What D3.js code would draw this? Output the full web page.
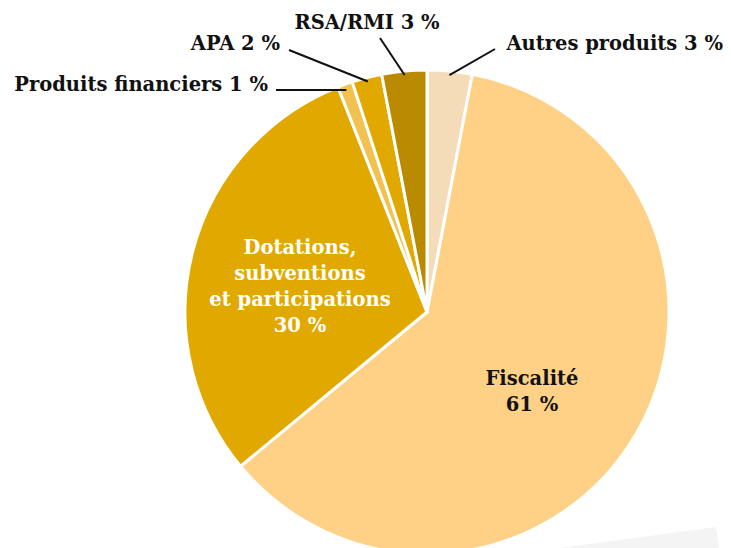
<!DOCTYPE html>
<html>
<head>
<meta charset="utf-8">
<script src="https://cdn.jsdelivr.net/npm/d3@7"></script>
<style>
  html, body { margin: 0; padding: 0; background: #fff; }
  svg { display: block; }
</style>
</head>
<body>
<svg id="chart" width="731" height="548"></svg>
<script>
// Répartition des recettes (en % du total)
const categories = ["Autres produits", "Fiscalité", "Dotations, subventions et participations", "Produits financiers", "APA", "RSA/RMI"];
const values = [3, 61, 30, 1, 2, 3];
const colors = ["#F5DCB9", "#FED186", "#E1A900", "#F2C250", "#E1A900", "#BA8B00"];

const svg = d3.select("#chart");
const cx = 427, cy = 312, R = 242;
const serif = "Georgia, 'DejaVu Serif', serif";

// faint grey sheet in the lower right corner
svg.append("path")
  .attr("d", "M560,548 L716,527 L719,548 Z")
  .attr("fill", "#F4F4F4");

const pie = d3.pie().sort(null).value(d => d.v);
const arcs = pie(categories.map((c, i) => ({ c, v: values[i], col: colors[i] })));
const arc = d3.arc().innerRadius(0).outerRadius(R);

const g = svg.append("g").attr("transform", `translate(${cx},${cy})`);
g.selectAll("path.slice").data(arcs).enter().append("path")
  .attr("class", "slice")
  .attr("d", arc)
  .attr("fill", d => d.data.col)
  .attr("stroke", "#fff")
  .attr("stroke-width", 3)
  .attr("stroke-linejoin", "round");

// outer labels with leader lines
const outer = [
  { i: 0, text: "Autres produits 3 %", x: 723, y: 50, anchor: "end", lx: 495, ly: 49 },
  { i: 3, text: "Produits financiers 1 %", x: 268, y: 91, anchor: "end", lx: 276, ly: 90 },
  { i: 4, text: "APA 2 %", x: 280, y: 50, anchor: "end", lx: 289, ly: 50 },
  { i: 5, text: "RSA/RMI 3 %", x: 367, y: 29, anchor: "middle", lx: 380, ly: 38 }
];
const leaderR = 238;
outer.forEach(o => {
  const a = arcs[o.i];
  const mid = (a.startAngle + a.endAngle) / 2;
  const ex = cx + leaderR * Math.sin(mid);
  const ey = cy - leaderR * Math.cos(mid);
  svg.append("line")
    .attr("x1", o.lx).attr("y1", o.ly)
    .attr("x2", ex).attr("y2", o.i === 3 ? o.ly : ey)
    .attr("stroke", "#111").attr("stroke-width", 2);
  svg.append("text")
    .attr("x", o.x).attr("y", o.y)
    .attr("text-anchor", o.anchor)
    .attr("font-family", serif)
    .attr("font-weight", "bold")
    .attr("font-size", 19.5)
    .attr("fill", "#111")
    .text(o.text);
});

// inner labels
const inner = [
  { lines: ["Dotations,", "subventions", "et participations", "30 %"], x: 300, y: 254, fill: "#fff" },
  { lines: ["Fiscalité", "61 %"], x: 532, y: 385, fill: "#111" }
];
inner.forEach(t => {
  const txt = svg.append("text")
    .attr("text-anchor", "middle")
    .attr("font-family", serif)
    .attr("font-weight", "bold")
    .attr("font-size", 19.5)
    .attr("fill", t.fill);
  t.lines.forEach((l, k) => {
    txt.append("tspan").attr("x", t.x).attr("y", t.y + k * 26).text(l);
  });
});
</script>
</body>
</html>
